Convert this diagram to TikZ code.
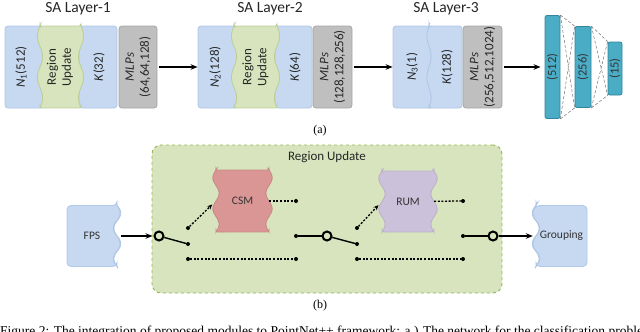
\documentclass[tikz,border=0pt]{standalone}
\usepackage{fontspec}
\setmainfont{Carlito}
\newfontfamily\capfont{Liberation Serif}
\usetikzlibrary{arrows.meta, positioning}
\definecolor{blockblue}{RGB}{198, 217, 241}
\definecolor{blueedge}{RGB}{176, 199, 230}
\definecolor{regiongreen}{RGB}{215, 228, 189}
\definecolor{greenedge}{RGB}{188, 206, 148}
\definecolor{dashgreen}{RGB}{150, 182, 86}
\definecolor{mlpgray}{RGB}{191, 191, 191}
\definecolor{grayedge}{RGB}{165, 165, 165}
\definecolor{fcteal}{RGB}{75, 172, 198}
\definecolor{tealedge}{RGB}{49, 133, 156}
\definecolor{csmred}{RGB}{217, 150, 148}
\definecolor{rumpurple}{RGB}{204, 193, 218}
\newcommand{\waveedge}[4]{-- plot[domain=0:1, samples=41, smooth]
  ({#1+#4*sin(720*\x)}, {#2+(#3-#2)*\x})}

\begin{document}
\begin{tikzpicture}[x=1pt, y=-1pt,
  block/.style={draw, rounded corners=3, minimum height=82, inner sep=0,
    line width=0.8pt},
  waveblock/.style={line width=0.8pt, rounded corners=2},
  vtext/.style={rotate=90, align=center, text=black!85,
    font=\fontsize{13}{15}\selectfont},
  title/.style={anchor=base, text=black!85, font=\fontsize{15.5}{18}\selectfont},
  smalltext/.style={inner sep=0, text=black!80, font=\fontsize{11.5}{14}\selectfont},
  fcbar/.style={draw=tealedge, fill=fcteal, rounded corners=2, inner sep=0,
    line width=0.8pt},
  fcline/.style={densely dashed, black!55, line width=0.5pt},
  rubox/.style={draw=dashgreen, dashed, fill=regiongreen, rounded corners=9,
    line width=0.9pt, minimum width=350, minimum height=148},
  arrow/.style={-{Stealth[length=7pt, width=5.5pt]}, line width=1.3pt},
  dotarrow/.style={-{Stealth[length=5pt, width=4.5pt]},
    dash pattern=on 2pt off 1.6pt, line width=1.3pt},
  dotline/.style={dash pattern=on 2pt off 1.6pt, line width=1.3pt},
  lever/.style={line width=1.4pt},
  dot/.style={circle, fill=black, inner sep=0, minimum size=4},
  switch/.style={circle, draw, fill=regiongreen, line width=2pt, inner sep=0,
    minimum size=9},
  sublabel/.style={font=\capfont\fontsize{12}{14}\selectfont}
]
  \useasboundingbox (0,0) rectangle (640,332);

  % (a) SA layers
  \node[title] (sa1) at (78,12.5) {SA Layer-1};
  \node[title] (sa2) at (270,12.5) {SA Layer-2};
  \node[title] (sa3) at (446,12.5) {SA Layer-3};

  % Layer 1
  \node[block, fill=blockblue, draw=blueedge, minimum width=39] (n1) at (24.5,67) {};
  \node[block, fill=blockblue, draw=blueedge, minimum width=38] (k1) at (98,67) {};
  \filldraw[waveblock, fill=regiongreen, draw=greenedge] (40,26) -- (81,26)
    \waveedge{81}{26}{108}{2.5} -- (40,108) \waveedge{40}{108}{26}{2.5} -- cycle;
  \node[block, fill=mlpgray, draw=grayedge, minimum width=38] (mlp1) at (138,67) {};
  \node[vtext] (n1txt) at (21,67) {\textit{N}\textsubscript{1}(512)};
  \node[vtext] (ru1txt) at (60,67) {Region\\Update};
  \node[vtext] (k1txt) at (99,67) {\textit{K}(32)};
  \node[vtext] (mlp1txt) at (138,67) {\textit{MLPs}\\(64,64,128)};

  % Layer 2
  \node[block, fill=blockblue, draw=blueedge, minimum width=40] (n2) at (218,67) {};
  \node[block, fill=blockblue, draw=blueedge, minimum width=37] (k2) at (293.5,67) {};
  \filldraw[waveblock, fill=regiongreen, draw=greenedge] (234,26) -- (277,26)
    \waveedge{277}{26}{108}{2.5} -- (234,108) \waveedge{234}{108}{26}{2.5} -- cycle;
  \node[block, fill=mlpgray, draw=grayedge, minimum width=39] (mlp2) at (332.5,67) {};
  \node[vtext] (n2txt) at (215,67) {\textit{N}\textsubscript{2}(128)};
  \node[vtext] (ru2txt) at (255.5,67) {Region\\Update};
  \node[vtext] (k2txt) at (295,67) {\textit{K}(64)};
  \node[vtext] (mlp2txt) at (332.5,67) {\textit{MLPs}\\(128,128,256)};

  % Layer 3
  \node[block, fill=blockblue, draw=blueedge, minimum width=41] (n3) at (413.5,67) {};
  \filldraw[waveblock, rounded corners=3, fill=blockblue, draw=blueedge]
    (429,26) -- (462,26) -- (462,108) -- (429,108)
    \waveedge{429}{108}{26}{2} -- cycle;
  \node[block, fill=mlpgray, draw=grayedge, minimum width=39] (mlp3) at (482.5,67) {};
  \node[vtext] (n3txt) at (412,67) {\textit{N}\textsubscript{3}(1)};
  \node[vtext] (k3txt) at (447,67) {\textit{K}(128)};
  \node[vtext] (mlp3txt) at (482.5,67) {\textit{MLPs}\\(256,512,1024)};

  % Fully connected layers
  \node[fcbar, minimum width=15, minimum height=103] (fc1) at (552.5,67) {};
  \node[fcbar, minimum width=16, minimum height=81] (fc2) at (583,67) {};
  \node[fcbar, minimum width=14, minimum height=53] (fc3) at (615,68.5) {};
  \foreach \a/\b in {fc1/fc2, fc2/fc3} {
    \draw[fcline] (\a.north east) -- (\b.north west)
      (\a.north east) -- (\b.south west)
      (\a.south east) -- (\b.north west)
      (\a.south east) -- (\b.south west);
  }
  \node[vtext, text=black!80, font=\fontsize{12.5}{15}\selectfont] (fc1txt) at (fc1) {(512)};
  \node[vtext, text=black!80, font=\fontsize{12.5}{15}\selectfont] (fc2txt) at (fc2) {(256)};
  \node[vtext, text=black!80, font=\fontsize{12.5}{15}\selectfont] (fc3txt) at (fc3) {(15)};

  % Arrows
  \draw[arrow, shorten <=2pt] (mlp1) -- (n2);
  \draw[arrow, shorten <=2pt] (mlp2) -- (n3);
  \draw[arrow, shorten <=2pt, shorten >=4pt] (mlp3) -- (fc1);

  \node[sublabel] (lbla) at (320,131) {(a)};

  % (b) Region Update
  \node[rubox] (rubox) at (327,219) {};
  \node[title, font=\fontsize{13}{15}\selectfont] (rutitle) at (327,160) {Region Update};

  % Blocks
  \filldraw[waveblock, rounded corners=4, fill=blockblue, draw=blueedge]
    (67,205.5) -- (117,205.5) \waveedge{117}{205.5}{266.5}{3} -- (67,266.5) -- cycle;
  \node[smalltext, minimum width=50, minimum height=61] (fps) at (92,236) {FPS};

  \filldraw[waveblock, fill=csmred, draw=csmred!92!black] (216,170) -- (269,170)
    \waveedge{269}{170}{232}{3} -- (216,232) \waveedge{216}{232}{170}{3} -- cycle;
  \node[smalltext, minimum width=53, minimum height=62] (csm) at (242.5,201) {CSM};

  \filldraw[waveblock, fill=rumpurple, draw=rumpurple!92!black] (382,171) -- (434,171)
    \waveedge{434}{171}{232}{3} -- (382,232) \waveedge{382}{232}{171}{3} -- cycle;
  \node[smalltext, minimum width=52, minimum height=61] (rum) at (408,201.5) {RUM};

  \filldraw[waveblock, rounded corners=4, fill=blockblue, draw=blueedge]
    (536,205.5) -- (587,205.5) -- (587,266.5) -- (536,266.5)
    \waveedge{536}{266.5}{205.5}{3} -- cycle;
  \node[smalltext, minimum width=51, minimum height=61] (grouping) at (561.5,236) {Grouping};

  % Switches and contacts
  \node[switch] (sw1) at (159,236) {};
  \node[switch] (sw2) at (327,236) {};
  \node[switch] (sw3) at (493,236) {};
  \node[dot] (d1a) at (188,228) {};
  \node[dot] (d1b) at (188,244) {};
  \node[dot] (d1c) at (188,259) {};
  \node[dot] (e1a) at (296,201) {};
  \node[dot] (e1b) at (296,236) {};
  \node[dot] (e1c) at (296,259) {};
  \node[dot] (d2a) at (357,228) {};
  \node[dot] (d2b) at (357,244) {};
  \node[dot] (d2c) at (357,259) {};
  \node[dot] (e2a) at (463,201) {};
  \node[dot] (e2b) at (463,236) {};
  \node[dot] (e2c) at (463,259) {};

  % Connections
  \draw[arrow, shorten <=4pt, shorten >=1pt] (fps) -- (sw1);
  \draw[lever] (sw1) -- (d1b);
  \draw[dotarrow, shorten >=5pt] (d1a) -- (csm.west);
  \draw[dotline] (csm) -- (e1a);
  \draw[dotline] (d1c) -- (e1c);
  \draw[lever] (e1b) -- (sw2);
  \draw[lever] (sw2) -- (d2b);
  \draw[dotarrow, shorten >=5pt] (d2a) -- (rum.west);
  \draw[dotline] (rum) -- (e2a);
  \draw[dotline] (d2c) -- (e2c);
  \draw[lever] (e2b) -- (sw3);
  \draw[arrow, shorten >=3pt] (sw3) -- (grouping);

  \node[sublabel] (lblb) at (320,306) {(b)};
  \node[anchor=base west, inner sep=0, font=\capfont\fontsize{13.5}{16}\selectfont]
    (caption) at (0,335) {Figure 2: The integration of proposed modules to
    PointNet++ framework: a.) The network for the classification problem};
\end{tikzpicture}
\end{document}
